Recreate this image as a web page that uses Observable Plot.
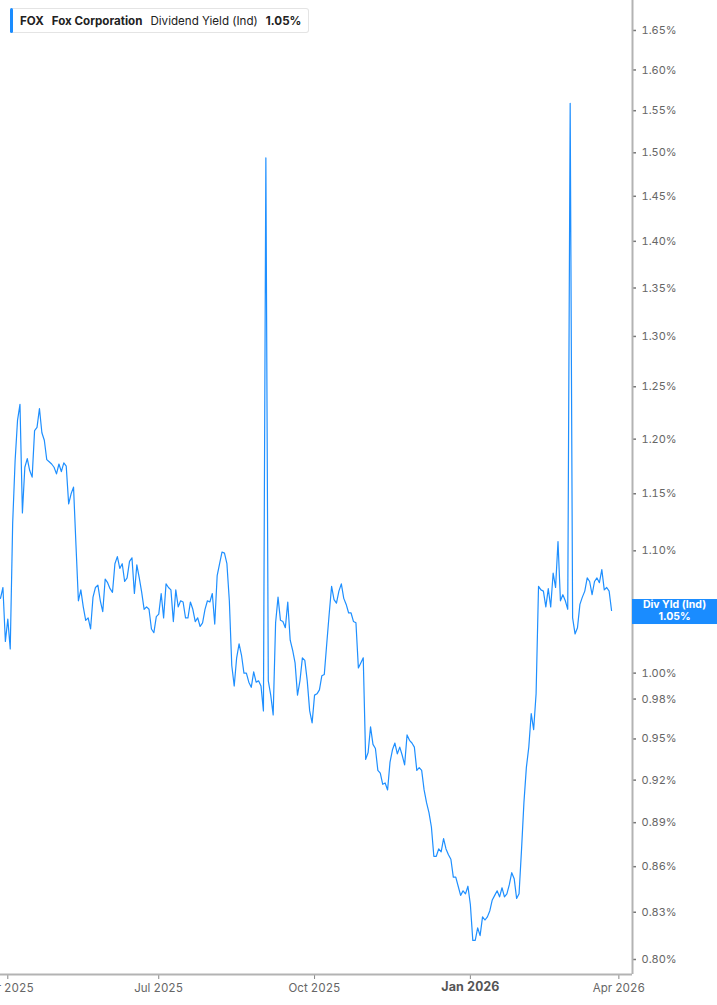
<!DOCTYPE html>
<html>
<head>
<meta charset="utf-8">
<script src="https://cdn.jsdelivr.net/npm/d3@7"></script>
<script src="https://cdn.jsdelivr.net/npm/@observablehq/plot@0.6"></script>
<style>
  html, body { margin: 0; padding: 0; background: #fff; }
  #wrap { position: relative; width: 717px; height: 1005px; overflow: hidden; font-family: Inter, "Noto Sans", sans-serif; }
  #wrap svg { display: block; }
  #legend { position: absolute; left: 10px; top: 8px; height: 25px; width: 299px; box-sizing: border-box;
    border: 1px solid #e4e4e4; border-left: none; border-radius: 3px; background: #fff;
    display: flex; align-items: center; font-size: 11.6px; color: #222; white-space: nowrap; }
  #legend .bar { position: absolute; left: 0; top: -1px; bottom: -1px; width: 3px; background: #1a8cff; border-radius: 2px; }
  #legend .t1 { margin-left: 10px; font-weight: 700; }
  #legend .t2 { margin-left: 8px; font-weight: 700; }
  #legend .t3 { margin-left: 8px; font-weight: 400; }
  #legend .t4 { margin-left: 8px; font-weight: 700; }
</style>
</head>
<body>
<div id="wrap">
  <div id="legend"><span class="bar"></span><span class="t1">FOX</span><span class="t2">Fox Corporation</span><span class="t3">Dividend Yield (Ind)</span><span class="t4">1.05%</span></div>
</div>
<script>
// Dividend yield (%) per trading day, starting 2025-03-27
const values = [
  1.060, 1.069, 1.025, 1.043, 1.019, 1.124, 1.180, 1.218, 1.233, 1.133,
  1.174, 1.182, 1.171, 1.165, 1.208, 1.211, 1.229, 1.206, 1.199, 1.181,
  1.179, 1.177, 1.174, 1.168, 1.177, 1.170, 1.178, 1.175, 1.141, 1.150,
  1.156, 1.105, 1.058, 1.067, 1.053, 1.042, 1.044, 1.035, 1.061, 1.069,
  1.071, 1.058, 1.049, 1.076, 1.073, 1.068, 1.065, 1.089, 1.095, 1.085,
  1.089, 1.074, 1.077, 1.091, 1.094, 1.064, 1.088, 1.077, 1.065, 1.051,
  1.053, 1.051, 1.035, 1.032, 1.045, 1.047, 1.064, 1.044, 1.072, 1.069,
  1.067, 1.041, 1.067, 1.053, 1.058, 1.057, 1.044, 1.044, 1.057, 1.051,
  1.041, 1.044, 1.037, 1.040, 1.051, 1.058, 1.057, 1.064, 1.039, 1.079,
  1.089, 1.099, 1.098, 1.089, 1.058, 1.006, 0.990, 1.012, 1.023, 1.014,
  1.000, 1.000, 0.993, 0.989, 1.001, 0.993, 0.994, 0.990, 0.971, 1.494,
  0.994, 0.983, 0.968, 1.040, 1.061, 1.042, 1.041, 1.036, 1.057, 1.026,
  1.018, 1.008, 0.983, 0.994, 1.012, 1.010, 0.994, 0.971, 0.962, 0.983,
  0.984, 0.987, 0.998, 0.999, 1.023, 1.047, 1.070, 1.059, 1.056, 1.066,
  1.072, 1.060, 1.055, 1.048, 1.048, 1.041, 1.040, 1.004, 1.008, 1.012,
  0.935, 0.940, 0.959, 0.946, 0.943, 0.927, 0.925, 0.917, 0.918, 0.913,
  0.933, 0.942, 0.947, 0.939, 0.944, 0.938, 0.931, 0.953, 0.949, 0.947,
  0.944, 0.927, 0.929, 0.927, 0.913, 0.904, 0.897, 0.887, 0.867, 0.867,
  0.872, 0.870, 0.879, 0.872, 0.868, 0.865, 0.853, 0.853, 0.847, 0.841,
  0.844, 0.842, 0.847, 0.835, 0.812, 0.812, 0.820, 0.815, 0.827, 0.825,
  0.827, 0.831, 0.838, 0.841, 0.844, 0.840, 0.846, 0.840, 0.842, 0.848,
  0.856, 0.852, 0.839, 0.842, 0.871, 0.904, 0.929, 0.944, 0.969, 0.957,
  0.984, 1.070, 1.067, 1.066, 1.053, 1.068, 1.053, 1.081, 1.069, 1.108,
  1.058, 1.063, 1.058, 1.051, 1.559, 1.044, 1.031, 1.036, 1.055, 1.061,
  1.066, 1.077, 1.074, 1.063, 1.074, 1.077, 1.073, 1.084, 1.067, 1.069,
  1.066, 1.050
];
const startDate = "2025-03-27";
const holidays = ["2025-04-18","2025-05-26","2025-06-19","2025-07-04","2025-09-01",
  "2025-11-27","2025-12-25","2026-01-01","2026-01-19","2026-02-16","2026-04-03"];
const tickDates = ["2025-04-01","2025-07-01","2025-10-01","2026-01-01","2026-04-01"];
const tickLabels = ["Apr 2025","Jul 2025","Oct 2025","Jan 2026","Apr 2026"];
const boldTick = "Jan 2026";
// 1.05% tick sits under the value badge
const yTicks = [0.80,0.83,0.86,0.89,0.92,0.95,0.98,1.00,1.10,1.15,1.20,1.25,1.30,1.35,1.40,1.45,1.50,1.55,1.60,1.65];
const badgeLabel = "Div Yld (Ind)";

// trading-day calendar
const hol = new Set(holidays);
const dates = [];
let d = new Date(startDate + "T00:00:00Z");
while (dates.length < values.length + 12) {
  const wd = d.getUTCDay();
  const iso = d.toISOString().slice(0, 10);
  if (wd !== 0 && wd !== 6 && !hol.has(iso)) dates.push(iso);
  d = new Date(d.getTime() + 86400000);
}
const data = values.map((v, i) => ({i, v, date: dates[i]}));
const tickIdx = tickDates.map(t => dates.findIndex(x => x >= t));
const labelOf = new Map(tickIdx.map((t, k) => [t, tickLabels[k]]));
const normalTicks = tickIdx.filter(t => labelOf.get(t) !== boldTick);
const boldTicks = tickIdx.filter(t => labelOf.get(t) === boldTick);

const xMax = 259.6, yMin = 0.7907, yMax = 1.689;
const axisColor = "#b3b3b3";

const plot = Plot.plot({
  width: 717,
  height: 1005,
  marginLeft: 0,
  marginRight: 85,
  marginTop: 0,
  marginBottom: 31,
  style: {fontFamily: "Inter, 'Noto Sans', sans-serif", background: "#fff", overflow: "hidden"},
  x: {domain: [0, xMax], axis: null},
  y: {type: "log", domain: [yMin, yMax], axis: null},
  marks: [
    Plot.axisY({anchor: "right", ticks: yTicks, tickFormat: v => v.toFixed(2) + "%", tickSize: 3, tickPadding: 6,
      fontSize: 11, stroke: "#777", fill: "#666", strokeWidth: 1.5, label: null}),
    Plot.axisX({ticks: normalTicks, tickFormat: t => labelOf.get(t), tickSize: 5, tickPadding: 4,
      fontSize: 11.5, stroke: "#888", fill: "#666", label: null}),
    Plot.axisX({ticks: boldTicks, tickFormat: t => labelOf.get(t), tickSize: 5, tickPadding: 3,
      fontSize: 12.5, fontWeight: "bold", stroke: "#888", fill: "#555", label: null}),
    Plot.ruleY([yMin], {stroke: axisColor, strokeWidth: 2}),
    Plot.ruleX([xMax], {stroke: axisColor, strokeWidth: 2}),
    Plot.lineY(data, {x: "i", y: "v", stroke: "#1e8fff", strokeWidth: 1.2})
  ]
});

// value badge on the right axis
const ys = plot.scale("y").apply(values[values.length - 1]);
const xs = plot.scale("x").apply(xMax);
const g = d3.select(plot).append("g");
g.append("rect").attr("x", xs).attr("y", ys - 11).attr("width", 717 - xs).attr("height", 25).attr("fill", "#1a8cff");
g.append("text").attr("x", (xs + 717) / 2).attr("y", ys - 4.5).attr("text-anchor", "middle").attr("dominant-baseline", "middle")
  .attr("fill", "#fff").attr("font-size", 10.5).attr("font-weight", "bold").text(badgeLabel);
g.append("text").attr("x", (xs + 717) / 2).attr("y", ys + 7).attr("text-anchor", "middle").attr("dominant-baseline", "middle")
  .attr("fill", "#fff").attr("font-size", 10.5).attr("font-weight", "bold").text(values[values.length - 1].toFixed(2) + "%");

document.getElementById("wrap").prepend(plot);
</script>
</body>
</html>
